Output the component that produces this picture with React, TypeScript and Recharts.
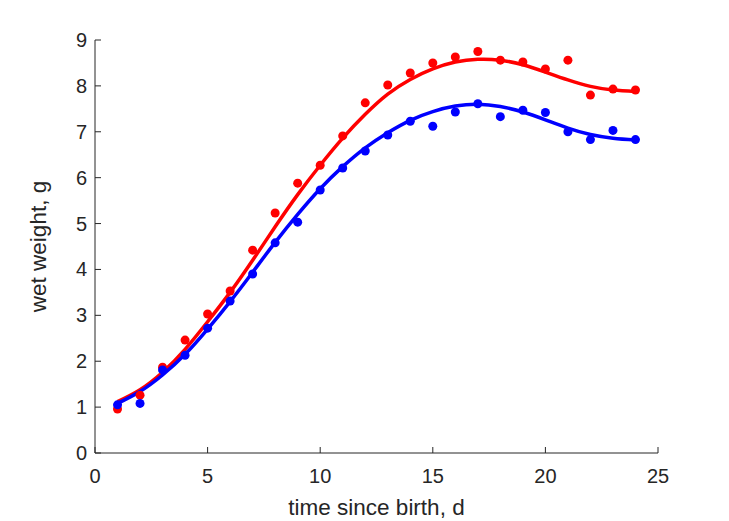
import React from "react";
import { ComposedChart, Line, XAxis, YAxis, Label } from "recharts";

// days since birth
const days = [1, 2, 3, 4, 5, 6, 7, 8, 9, 10, 11, 12, 13, 14, 15, 16, 17, 18, 19, 20, 21, 22, 23, 24];

// observed wet weight (g)
const redObs = [0.96, 1.26, 1.87, 2.46, 3.03, 3.53, 4.42, 5.23, 5.88, 6.27, 6.91, 7.63, 8.02, 8.28, 8.5, 8.63, 8.75, 8.56, 8.52, 8.37, 8.56, 7.8, 7.93, 7.91];
const blueObs = [1.05, 1.08, 1.81, 2.13, 2.72, 3.31, 3.9, 4.58, 5.03, 5.73, 6.21, 6.58, 6.93, 7.23, 7.12, 7.43, 7.61, 7.33, 7.47, 7.42, 7.0, 6.83, 7.03, 6.83];

// fitted curves (g)
const redFit = [1.12, 1.38, 1.76, 2.26, 2.86, 3.5, 4.2, 4.93, 5.63, 6.27, 6.86, 7.38, 7.82, 8.14, 8.37, 8.52, 8.58, 8.56, 8.46, 8.3, 8.13, 7.99, 7.91, 7.88];
const blueFit = [1.08, 1.34, 1.7, 2.15, 2.7, 3.3, 3.94, 4.59, 5.2, 5.76, 6.24, 6.65, 6.98, 7.25, 7.44, 7.56, 7.6, 7.55, 7.43, 7.26, 7.08, 6.94, 6.86, 6.82];

const xTicks = [0, 5, 10, 15, 20, 25];
const yTicks = [0, 1, 2, 3, 4, 5, 6, 7, 8, 9];

const table = days.map((d, i) => ({
  day: d,
  redObs: redObs[i],
  blueObs: blueObs[i],
  redFit: redFit[i],
  blueFit: blueFit[i],
}));

const FONT = "'Liberation Sans', Arial, Helvetica, sans-serif";
const INK = "#262626";

const XTick = (props: any) => {
  const { x, y, payload } = props;
  return (
    <g>
      <line x1={x} y1={y} x2={x} y2={y - 6} stroke={INK} strokeWidth={1} />
      <text x={x} y={y} dy={29.5} textAnchor="middle" fill={INK} fontSize={20} fontFamily={FONT}>
        {payload.value}
      </text>
    </g>
  );
};

const YTick = (props: any) => {
  const { x, y, payload } = props;
  return (
    <g>
      <line x1={x} y1={y} x2={x + 6} y2={y} stroke={INK} strokeWidth={1} />
      <text x={x - 8} y={y} dy={7} textAnchor="end" fill={INK} fontSize={20} fontFamily={FONT}>
        {payload.value}
      </text>
    </g>
  );
};

export default function App() {
  return (
    <div style={{ position: "absolute", left: 0, top: 0, width: 729, height: 521, background: "#fff" }}>
      <ComposedChart width={729} height={521} data={table} margin={{ top: 40, right: 71, left: 0, bottom: 0 }}>
        <XAxis
          dataKey="day"
          type="number"
          domain={[0, 25]}
          ticks={xTicks}
          interval={0}
          height={68}
          tickSize={0}
          tickMargin={0}
          tick={<XTick />}
          axisLine={{ stroke: INK, strokeWidth: 1 }}
          tickLine={false}
        >
          <Label
            value="time since birth, d"
            position="insideBottom"
            offset={6}
            style={{ fill: INK, fontSize: 22.5, fontFamily: FONT }}
          />
        </XAxis>
        <YAxis
          type="number"
          domain={[0, 9]}
          ticks={yTicks}
          interval={0}
          width={95}
          tickSize={0}
          tickMargin={0}
          tick={<YTick />}
          axisLine={{ stroke: INK, strokeWidth: 1 }}
          tickLine={false}
        >
          <Label
            value="wet weight, g"
            angle={-90}
            position="insideLeft"
            offset={38}
            style={{ fill: INK, fontSize: 22.5, fontFamily: FONT, textAnchor: "middle" }}
          />
        </YAxis>
        <Line type="natural" dataKey="redFit" stroke="#ff0000" strokeWidth={3.5} dot={false} isAnimationActive={false} />
        <Line type="natural" dataKey="blueFit" stroke="#0000ff" strokeWidth={3.5} dot={false} isAnimationActive={false} />
        <Line
          dataKey="redObs"
          stroke="none"
          dot={{ r: 4.5, fill: "#ff0000", stroke: "none" }}
          activeDot={false}
          isAnimationActive={false}
        />
        <Line
          dataKey="blueObs"
          stroke="none"
          dot={{ r: 4.5, fill: "#0000ff", stroke: "none" }}
          activeDot={false}
          isAnimationActive={false}
        />
      </ComposedChart>
    </div>
  );
}
